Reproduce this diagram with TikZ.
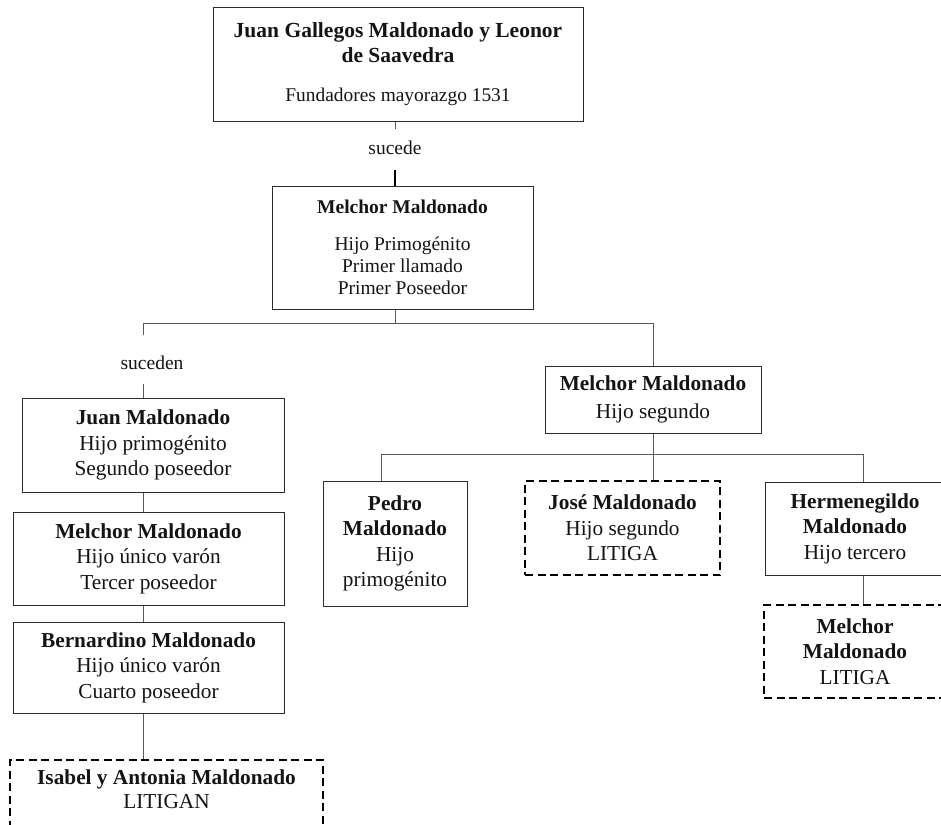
\documentclass[tikz,border=0pt]{standalone}
\usepackage{fontspec}
\setmainfont{Liberation Serif}
\definecolor{boxc}{HTML}{2A2A2A}
\definecolor{linkc}{HTML}{5A5A5A}
\definecolor{txt}{HTML}{141414}
\newcommand\fbig{\fontsize{21.3}{25.5}\selectfont}
\newcommand\fsmall{\fontsize{19.5}{22}\selectfont}
\tikzset{
  box/.style={draw=boxc, line width=1pt, fill=white, inner sep=0pt, align=center, text=txt, font=\fbig},
  dbox/.style={box, draw=black, line width=1.8pt, dash pattern=on 8pt off 4.5pt},
  link/.style={draw=linkc, line width=1pt},
  darklink/.style={draw=black, line width=1.6pt},
  lbl/.style={inner sep=0pt, text=txt, font=\fsmall},
}
\begin{document}
\begin{tikzpicture}[x=1pt, y=-1pt]
\fill[white] (0,0) rectangle (941,824);
\useasboundingbox (0,0) rectangle (941,824);

% nodes
\node[box, minimum width=370pt, minimum height=113pt] (top) at (398,64.5)
  {{\fontsize{21.5}{25}\selectfont\bfseries Juan Gallegos Maldonado y Leonor}\\[-1pt]
   {\fontsize{21.5}{25}\selectfont\bfseries de Saavedra}\\[14pt]
   {\fontsize{19.4}{22}\selectfont Fundadores mayorazgo 1531}};
\node[lbl] (suc) at (395,148) {sucede};
\node[box, font=\fsmall, minimum width=261pt, minimum height=123pt] (m1) at (402.5,247.5)
  {\textbf{Melchor Maldonado}\\[15pt]Hijo Primogénito\\Primer llamado\\Primer Poseedor};
\node[lbl] (sdn) at (152,363) {suceden};

\node[box, minimum width=262pt, minimum height=94pt] (juan) at (153,445)
  {\textbf{Juan Maldonado}\\Hijo primogénito\\Segundo poseedor};
\node[box, minimum width=271pt, minimum height=93pt] (mel2) at (148.5,558.5)
  {\textbf{Melchor Maldonado}\\Hijo único varón\\Tercer poseedor};
\node[box, minimum width=271pt, minimum height=91pt] (bern) at (148.5,667.5)
  {\textbf{Bernardino Maldonado}\\Hijo único varón\\Cuarto poseedor};
\node[dbox, anchor=north, minimum width=313pt, inner ysep=10pt, text depth=80pt] (isa) at (166.5,759)
  {\textbf{Isabel y Antonia Maldonado}\\[-2pt]LITIGAN};

\node[box, minimum width=216pt, minimum height=67pt] (mel3) at (653,399.5)
  {\textbf{Melchor Maldonado}\\[2pt]Hijo segundo};
\node[box, minimum width=144pt, minimum height=125pt] (ped) at (395,543.5)
  {\textbf{Pedro}\\\textbf{Maldonado}\\Hijo\\primogénito};
\node[dbox, minimum width=195pt, minimum height=94pt] (jose) at (622.5,528)
  {\textbf{José Maldonado}\\Hijo segundo\\LITIGA};
\node[box, minimum width=180pt, minimum height=93pt] (herm) at (855,528.5)
  {\textbf{Hermenegildo}\\\textbf{Maldonado}\\Hijo tercero};
\node[dbox, minimum width=182pt, minimum height=93pt] (mel4) at (855,651.5)
  {\textbf{Melchor}\\\textbf{Maldonado}\\LITIGA};

% junction coordinates
\coordinate (a) at (395,323);
\coordinate (aL) at (143,323);
\coordinate (aR) at (653,323);
\coordinate (sdTop) at (143,335);
\coordinate (b) at (653,454);
\coordinate (bL) at (381,454);
\coordinate (bR) at (863,454);

% connectors
\draw[link] (top.south -| a) -- ++(0,7);
\draw[darklink] (m1.north -| a) -- ++(0,-16);
\draw[link] (m1.south -| a) -- (a);
\draw[link] (sdTop) -- (aL) -- (aR) -- (mel3.north -| aR);
\draw[link] (juan.north -| aL) -- ++(0,-14);
\draw[link] (juan.south -| aL) -- (mel2.north -| aL);
\draw[link] (mel2.south -| aL) -- (bern.north -| aL);
\draw[link] (bern.south -| aL) -- (isa.north -| aL);

\draw[link] (mel3.south) -- (b);
\draw[link] (ped.north -| bL) -- (bL) -- (bR) -- (herm.north -| bR);
\draw[link] (b) -- (jose.north -| b);
\draw[link] (herm.south -| bR) -- (mel4.north -| bR);
\end{tikzpicture}
\end{document}
